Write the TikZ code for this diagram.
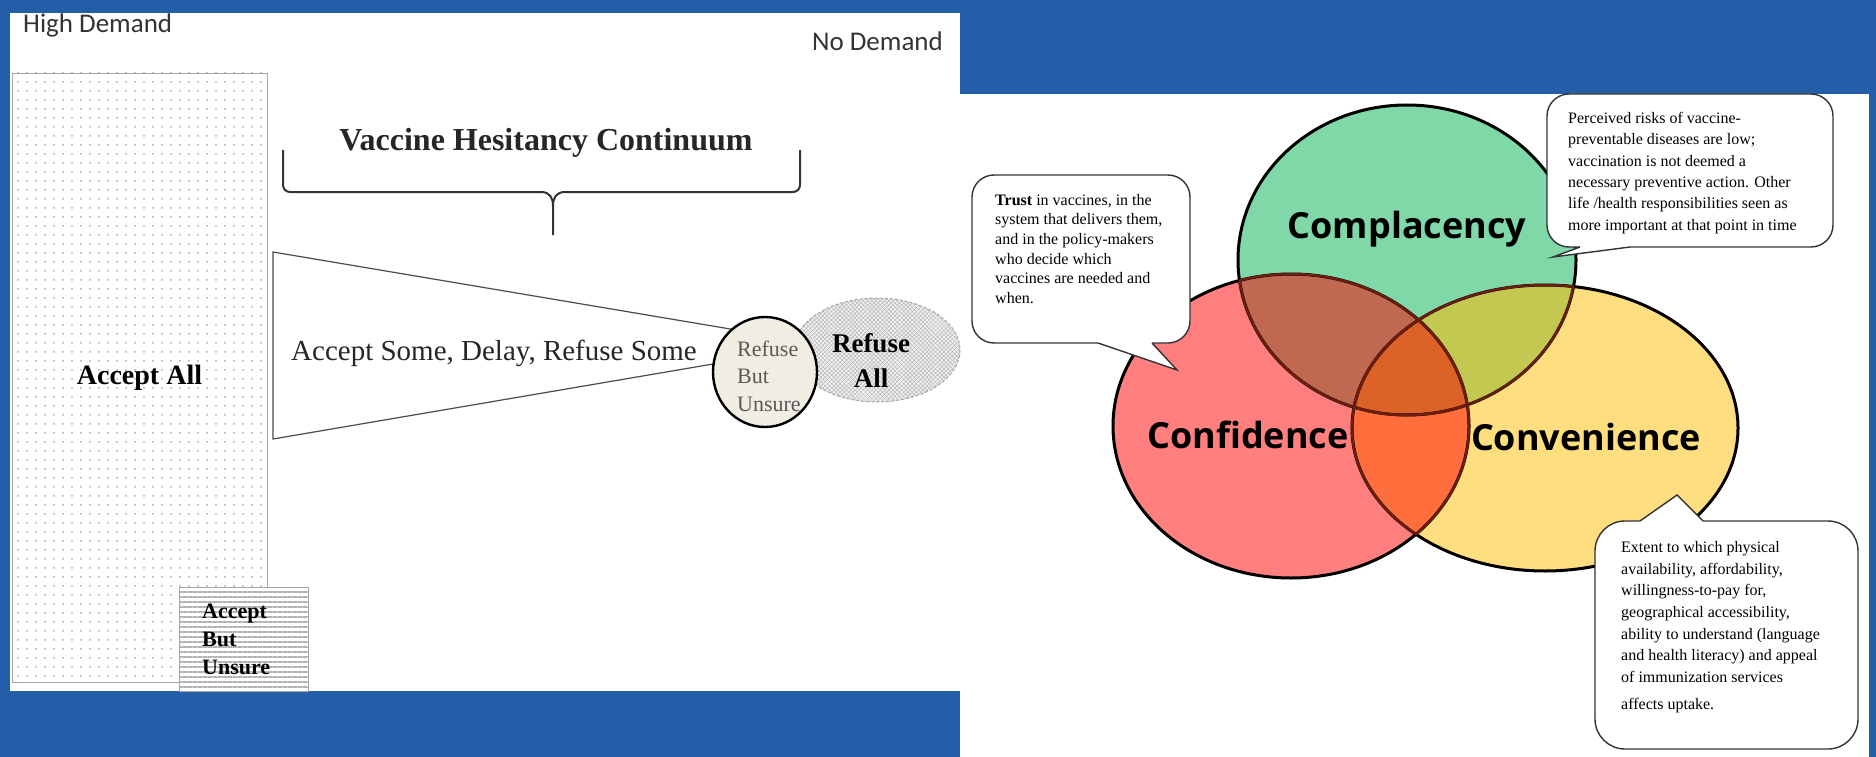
\documentclass[tikz,border=0pt]{standalone}
\usepackage{fontspec}
\setmainfont{Liberation Serif}
\newfontfamily\demandfont{Carlito}
\newfontfamily\vennfont{Open Sans}
\usepackage{tikz}
\usetikzlibrary{patterns.meta}

\definecolor{SlideBlue}{RGB}{36,94,168}
\definecolor{CompGreen}{RGB}{128,215,168}
\definecolor{ConfRed}{RGB}{255,127,127}
\definecolor{ConvYellow}{RGB}{255,222,128}
\definecolor{GreenRed}{RGB}{192,104,80}
\definecolor{GreenYellow}{RGB}{194,200,80}
\definecolor{RedYellow}{RGB}{255,110,60}
\definecolor{AllThree}{RGB}{220,98,40}
\definecolor{InnerLine}{RGB}{110,30,15}
\definecolor{UnsureFill}{RGB}{240,237,226}

\newcommand{\compshape}{(1407,260) ellipse [x radius=169, y radius=155]}
\newcommand{\confshape}{(1291,426) ellipse [x radius=178, y radius=152]}
\newcommand{\convshape}{(1545,428) ellipse [x radius=193, y radius=143]}

\begin{document}
\begin{tikzpicture}[x=1pt, y=-1pt,
    bracket line/.style={draw=black!80, line width=2},
    venn label/.style={font=\vennfont\bfseries\fontsize{36}{40}\selectfont, anchor=base},
    note box/.style={draw=black!80, line width=1.4, fill=white,
        rounded corners=22pt, inner sep=0pt},
    note text/.style={anchor=west, align=left, inner sep=0pt},
    tail/.style={draw=black!80, line width=1.4, line join=miter}]

    % slide backdrop
    \fill[SlideBlue] (0,0) rectangle (1876,757);
    \fill[white] (10,13) rectangle (960,691);
    \fill[white] (960,94) rectangle (1869,757);

    \begin{scope}
        \node[anchor=base west, inner sep=0, text=black!80,
            font=\demandfont\fontsize{27}{30}\selectfont]
            (HighDemand) at (23,33) {High Demand};
        \node[anchor=base east, inner sep=0, text=black!80,
            font=\demandfont\fontsize{27}{30}\selectfont]
            (NoDemand) at (943,51) {No Demand};

        \node[draw=gray!70, line width=0.8,
            pattern={Dots[distance=9pt, radius=1pt]}, pattern color=gray!65,
            minimum width=255pt, minimum height=609pt, inner sep=0]
            (AcceptAll) at (139.5,377.5) {};
        \node[font=\bfseries\fontsize{28}{32}\selectfont]
            (AcceptAllText) at (AcceptAll) {Accept All};

        \node[draw=gray!70, line width=0.8, preaction={fill=white},
            pattern={Lines[angle=0, distance=5pt, line width=2pt]},
            pattern color=gray!60,
            minimum width=129pt, minimum height=104pt, inner sep=0]
            (AcceptUnsure) at (243.5,639) {};
        \node[anchor=west, align=left, inner sep=0,
            font=\bfseries\fontsize{22}{28}\selectfont]
            (AcceptUnsureText) at (202,639) {Accept\\But\\Unsure};

        \node[anchor=base, text=black!85,
            font=\bfseries\fontsize{32}{36}\selectfont]
            (Continuum) at (546,150) {Vaccine Hesitancy Continuum};

        \draw[bracket line, rounded corners=7pt] (283,150) -- (283,192) -- (541,192);
        \draw[bracket line, rounded corners=7pt] (800,150) -- (800,192) -- (565,192);
        \draw[bracket line] (541,192) .. controls (550,192) and (553,198) .. (553,206)
            -- (553,235);
        \draw[bracket line] (565,192) .. controls (556,192) and (553,198) .. (553,206);

        \draw[draw=black!70, line width=1.2, fill=white]
            (273,252) -- (760,334) -- (760,356) -- (273,439) -- cycle;
        \node[text=black!85, font=\fontsize{29}{32}\selectfont]
            (SomeText) at (494,353) {Accept Some, Delay, Refuse Some};

        \draw[draw=gray!70, line width=1, densely dashed, preaction={fill=gray!12},
            pattern={Hatch[angle=45, distance=3pt, line width=0.5pt]},
            pattern color=gray!55]
            (877,350) ellipse [x radius=83, y radius=52];
        \draw[line width=2.4, fill=UnsureFill]
            (765,372) ellipse [x radius=52, y radius=55];
        \node[anchor=west, align=left, inner sep=0, text=black!65,
            font=\fontsize{22}{27.5}\selectfont]
            (RefuseUnsureText) at (737,376) {Refuse\\But\\Unsure};
        \node[align=center, inner sep=0,
            font=\bfseries\fontsize{27}{35}\selectfont]
            (RefuseAllText) at (871,360) {Refuse\\All};
    \end{scope}

    \begin{scope}
        % the three C's
        \fill[CompGreen] \compshape;
        \fill[ConfRed] \confshape;
        \fill[ConvYellow] \convshape;
        \begin{scope}
            \clip \compshape;
            \fill[GreenRed] \confshape;
            \fill[GreenYellow] \convshape;
        \end{scope}
        \begin{scope}
            \clip \confshape;
            \fill[RedYellow] \convshape;
        \end{scope}
        \begin{scope}
            \clip \compshape;
            \clip \confshape;
            \fill[AllThree] \convshape;
        \end{scope}

        \draw[line width=3] \compshape \confshape \convshape;
        \begin{scope}
            \clip \compshape;
            \draw[InnerLine, line width=2.4] \confshape \convshape;
        \end{scope}
        \begin{scope}
            \clip \confshape;
            \draw[InnerLine, line width=2.4] \compshape \convshape;
        \end{scope}
        \begin{scope}
            \clip \convshape;
            \draw[InnerLine, line width=2.4] \compshape \confshape;
        \end{scope}

        \node[venn label] (Complacency) at (1407,238) {Complacency};
        \node[venn label] (Confidence) at (1248,448) {Confidence};
        \node[venn label] (Convenience) at (1586,450) {Convenience};

        % speech bubbles
        \node[note box, minimum width=218pt, minimum height=168pt]
            (TrustBox) at (1081,259) {};
        \node[note text, font=\fontsize{16}{19.7}\selectfont]
            (TrustText) at (995,249)
            {\textbf{Trust} in vaccines, in the\\system that delivers them,\\
             and in the policy-makers\\who decide which\\
             vaccines are needed and\\when.};
        \fill[white] (1098,339) -- (1098,343) -- (1177,370) -- (1152,343)
            -- (1152,339) -- cycle;
        \draw[tail] (1098,343) -- (1177,370) -- (1152,343);

        \node[note box, minimum width=286pt, minimum height=153pt]
            (RiskBox) at (1690,170.5) {};
        \node[note text, font=\fontsize{16}{21.3}\selectfont]
            (RiskText) at (1568,173)
            {Perceived risks of vaccine-\\preventable diseases are low;\\
             vaccination is not deemed a\\necessary preventive action. Other\\
             life /health responsibilities seen as\\
             more important at that point in time};
        \fill[white] (1580,243) -- (1580,247) -- (1553,257) -- (1630,247)
            -- (1630,243) -- cycle;
        \draw[tail] (1580,247) -- (1553,257) -- (1630,247);

        \node[note box, rounded corners=30pt, minimum width=263pt, minimum height=228pt]
            (AccessBox) at (1726.5,635) {};
        \node[note text, font=\fontsize{16}{21.7}\selectfont]
            (AccessText) at (1621,627)
            {Extent to which physical\\availability, affordability,\\
             willingness-to-pay for,\\geographical accessibility,\\
             ability to understand (language\\and health literacy) and appeal\\
             of immunization services\\[5pt]affects uptake.};
        \fill[white] (1640,525) -- (1640,521) -- (1677,495) -- (1703,521)
            -- (1703,525) -- cycle;
        \draw[tail] (1640,521) -- (1677,495) -- (1703,521);
    \end{scope}

\end{tikzpicture}
\end{document}
